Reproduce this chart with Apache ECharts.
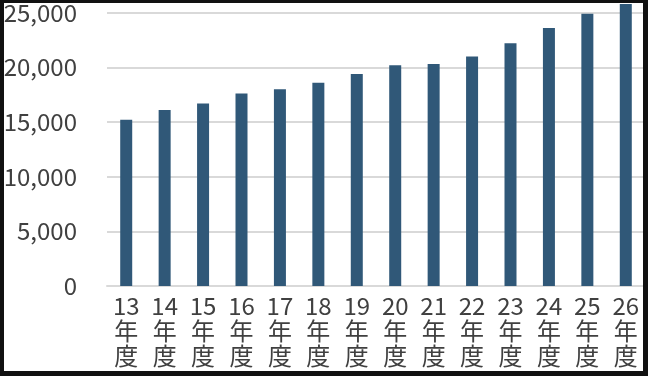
<!DOCTYPE html>
<html>
<head>
<meta charset="utf-8">
<script src="https://cdn.jsdelivr.net/npm/echarts@6/dist/echarts.min.js"></script>
<style>
html,body{margin:0;padding:0;background:#fff;overflow:hidden;}
#wrap{position:relative;width:648px;height:376px;overflow:hidden;}
#chart{position:absolute;left:0;top:-55px;width:648px;height:431px;}
#frame{position:absolute;left:0;top:0;width:648px;height:376px;box-sizing:border-box;border-left:4px solid #111;border-top:3px solid #111;border-right:5px solid #111;border-bottom:5px solid #111;pointer-events:none;}
</style>
</head>
<body>
<div id="wrap"><div id="chart"></div><div id="frame"></div></div>
<script>
const categories = ['13\n年\n度','14\n年\n度','15\n年\n度','16\n年\n度','17\n年\n度','18\n年\n度','19\n年\n度','20\n年\n度','21\n年\n度','22\n年\n度','23\n年\n度','24\n年\n度','25\n年\n度','26\n年\n度'];
const values = [15200, 16100, 16700, 17600, 18000, 18600, 19400, 20200, 20300, 21000, 22200, 23600, 24900, 25800];
const yMin = 0, yMax = 30000, yInterval = 5000;

const chart = echarts.init(document.getElementById('chart'), null, {renderer:'canvas'});
chart.setOption({
  animation:false,
  backgroundColor:'#fff',
  grid:{left:107, right:3, top:13, bottom:90, containLabel:false},
  xAxis:{
    type:'category', data:categories,
    axisLine:{lineStyle:{color:'#d9d9d9', width:2}},
    axisTick:{show:false},
    axisLabel:{interval:0, color:'#404040', fontSize:24, lineHeight:25, margin:7, fontFamily:'Noto Sans CJK JP'}
  },
  yAxis:{
    type:'value', min:yMin, max:yMax, interval:yInterval,
    axisLine:{show:false}, axisTick:{show:false},
    splitLine:{lineStyle:{color:'#d9d9d9', width:2}},
    axisLabel:{color:'#404040', fontSize:24, margin:30, fontFamily:'Noto Sans CJK JP',
      formatter:v=>v.toLocaleString('en-US')}
  },
  series:[{type:'bar', data:values, barWidth:12, itemStyle:{color:'#305878'}}]
});
</script>
</body>
</html>
